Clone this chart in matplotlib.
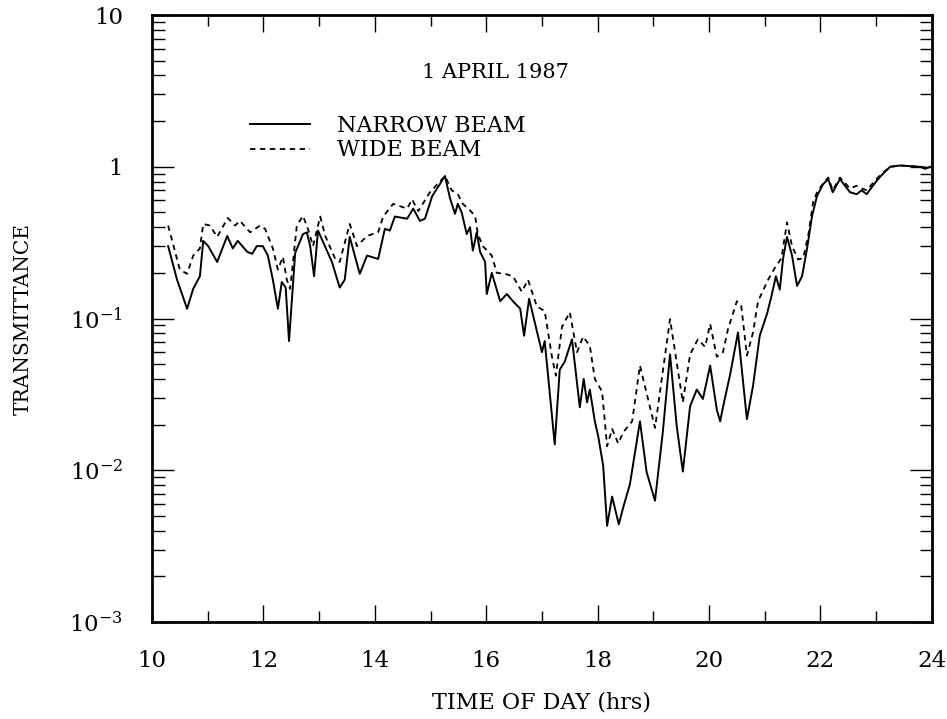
import math
import matplotlib
matplotlib.use("Agg")
import matplotlib.pyplot as plt
from matplotlib.ticker import FixedLocator, LogLocator, FuncFormatter, NullFormatter

plt.rcParams['font.family'] = ['DejaVu Serif']
plt.rcParams['mathtext.fontset'] = 'dejavuserif'

# narrow beam (solid)
narrow_t = [10.29, 10.45, 10.63, 10.74, 10.86, 10.92, 11.01, 11.17, 11.35, 11.45,
            11.54, 11.71, 11.80, 11.88, 11.99, 12.08, 12.17, 12.26, 12.33, 12.40,
            12.46, 12.57, 12.71, 12.78, 12.84, 12.91, 12.98, 13.07, 13.23, 13.37,
            13.46, 13.55, 13.64, 13.73, 13.86, 14.06, 14.18, 14.27, 14.36, 14.58,
            14.69, 14.81, 14.90, 15.03, 15.26, 15.35, 15.44, 15.49, 15.56, 15.65,
            15.71, 15.76, 15.83, 15.89, 15.98, 16.01, 16.10, 16.25, 16.37, 16.48,
            16.61, 16.68, 16.77, 17.00, 17.05, 17.23, 17.32, 17.41, 17.54, 17.68,
            17.75, 17.81, 17.86, 17.95, 18.01, 18.10, 18.17, 18.26, 18.38, 18.46,
            18.58, 18.76, 18.88, 19.03, 19.17, 19.30, 19.42, 19.53, 19.66, 19.78,
            19.89, 20.02, 20.14, 20.20, 20.25, 20.38, 20.52, 20.68, 20.79, 20.91,
            21.04, 21.12, 21.20, 21.27, 21.33, 21.40, 21.49, 21.58, 21.67, 21.76,
            21.85, 21.94, 22.05, 22.14, 22.22, 22.35, 22.53, 22.65, 22.74, 22.83,
            22.94, 23.07, 23.25, 23.43, 23.79, 23.88, 23.97]
narrow_tr = [0.30, 0.18, 0.116, 0.157, 0.19, 0.325, 0.30, 0.236, 0.35, 0.29,
             0.325, 0.275, 0.267, 0.30, 0.30, 0.26, 0.18, 0.116, 0.174, 0.16,
             0.071, 0.27, 0.36, 0.37, 0.30, 0.19, 0.38, 0.32, 0.236, 0.16,
             0.18, 0.345, 0.26, 0.197, 0.26, 0.247, 0.39, 0.38, 0.47, 0.455,
             0.53, 0.44, 0.455, 0.64, 0.87, 0.62, 0.49, 0.57, 0.50, 0.36,
             0.40, 0.28, 0.37, 0.275, 0.236, 0.145, 0.20, 0.13, 0.145, 0.13,
             0.116, 0.077, 0.135, 0.060, 0.071, 0.0148, 0.046, 0.052, 0.073, 0.026,
             0.040, 0.028, 0.034, 0.021, 0.0168, 0.0107, 0.0043, 0.0067, 0.0044, 0.0057,
             0.0081, 0.021, 0.0097, 0.0063, 0.0178, 0.058, 0.0195, 0.0098, 0.0264, 0.034,
             0.0295, 0.049, 0.025, 0.021, 0.026, 0.043, 0.081, 0.0217, 0.036, 0.077,
             0.107, 0.14, 0.19, 0.155, 0.25, 0.345, 0.26, 0.164, 0.19, 0.29,
             0.475, 0.645, 0.77, 0.83, 0.68, 0.83, 0.68, 0.66, 0.70, 0.66,
             0.75, 0.86, 1.0, 1.02, 1.0, 0.97, 1.0]

# wide beam (dashed)
wide_t = [10.29, 10.50, 10.63, 10.74, 10.86, 10.92, 11.04, 11.17, 11.36, 11.49,
          11.58, 11.76, 11.94, 12.03, 12.17, 12.26, 12.35, 12.42, 12.48, 12.60,
          12.71, 12.80, 12.89, 13.02, 13.11, 13.29, 13.37, 13.55, 13.68, 13.86,
          14.06, 14.15, 14.33, 14.58, 14.67, 14.78, 14.99, 15.26, 15.38, 15.49,
          15.58, 15.70, 15.80, 15.85, 15.94, 16.10, 16.19, 16.34, 16.48, 16.64,
          16.75, 16.91, 17.05, 17.18, 17.25, 17.36, 17.50, 17.63, 17.74, 17.86,
          17.95, 18.08, 18.17, 18.26, 18.37, 18.46, 18.62, 18.76, 19.03, 19.30,
          19.53, 19.66, 19.80, 19.93, 20.02, 20.14, 20.25, 20.34, 20.50, 20.58,
          20.68, 20.79, 20.88, 21.06, 21.18, 21.30, 21.40, 21.49, 21.60, 21.69,
          21.78, 21.87, 21.94, 22.05, 22.14, 22.22, 22.35, 22.53, 22.65, 22.74,
          22.83, 22.94, 23.07, 23.25, 23.43, 23.79, 23.88, 23.97]
wide_tr = [0.41, 0.21, 0.197, 0.26, 0.29, 0.42, 0.41, 0.345, 0.46, 0.41,
           0.44, 0.37, 0.41, 0.39, 0.29, 0.21, 0.255, 0.18, 0.157, 0.41,
           0.475, 0.39, 0.30, 0.47, 0.35, 0.247, 0.236, 0.42, 0.30, 0.35,
           0.37, 0.47, 0.57, 0.53, 0.61, 0.51, 0.68, 0.87, 0.70, 0.66,
           0.57, 0.52, 0.475, 0.36, 0.30, 0.26, 0.20, 0.197, 0.19, 0.15,
           0.18, 0.12, 0.112, 0.056, 0.042, 0.088, 0.11, 0.060, 0.076, 0.066,
           0.040, 0.033, 0.0144, 0.0187, 0.015, 0.0178, 0.021, 0.049, 0.019, 0.099,
           0.028, 0.058, 0.073, 0.065, 0.092, 0.056, 0.060, 0.085, 0.13, 0.12,
           0.057, 0.081, 0.13, 0.18, 0.215, 0.25, 0.43, 0.30, 0.245, 0.25,
           0.35, 0.59, 0.68, 0.78, 0.85, 0.70, 0.85, 0.72, 0.75, 0.72,
           0.70, 0.78, 0.88, 1.0, 1.02, 1.0, 0.99, 1.0]

x_ticks = [10, 12, 14, 16, 18, 20, 22, 24]
x_minor = [11, 13, 15, 17, 19, 21, 23]
y_ticks = [1e-3, 1e-2, 1e-1, 1, 10]


def decade_label(v, pos):
    if v == 10:
        return '10'
    if v == 1:
        return '1'
    return r'$10^{%d}$' % round(math.log10(v))


fig = plt.figure(figsize=(9.47, 7.19), dpi=100)
ax = fig.add_axes([0.1605, 0.135, 0.8235, 0.844])

ax.plot(narrow_t, narrow_tr, color='black', lw=1.4, ls='-', label='NARROW BEAM')
ax.plot(wide_t, wide_tr, color='black', lw=1.3, ls=(0, (3, 2.5)), label='WIDE BEAM')

ax.set_yscale('log')
ax.set_xlim(10, 24)
ax.set_ylim(1e-3, 10)

ax.xaxis.set_major_locator(FixedLocator(x_ticks))
ax.xaxis.set_minor_locator(FixedLocator(x_minor))
ax.yaxis.set_major_locator(FixedLocator(y_ticks))
ax.yaxis.set_minor_locator(LogLocator(base=10, subs=range(2, 10)))
ax.yaxis.set_major_formatter(FuncFormatter(decade_label))
ax.yaxis.set_minor_formatter(NullFormatter())

ax.tick_params(axis='both', which='both', direction='in', top=True, right=True,
               labelsize=16.5, colors='black')
ax.tick_params(axis='y', which='major', length=16, width=1.0, pad=21)
ax.tick_params(axis='y', which='minor', length=9, width=1.0)
ax.tick_params(axis='x', which='major', length=12, width=1.0, pad=20)
ax.tick_params(axis='x', which='minor', length=8, width=1.0)

for s in ax.spines.values():
    s.set_linewidth(2.0)

ax.set_xlabel('TIME OF DAY (hrs)', fontsize=16, labelpad=14)
ax.set_ylabel('TRANSMITTANCE', fontsize=14.5, labelpad=26)

ax.text(0.44, 0.905, '1 APRIL 1987', transform=ax.transAxes, fontsize=15,
        ha='center', va='center')
ax.legend(loc='upper left', bbox_to_anchor=(0.1, 0.868), frameon=False,
          fontsize=16, handlelength=2.7, handletextpad=1.2, labelspacing=0.1)

fig.savefig('out.png', dpi=100)
